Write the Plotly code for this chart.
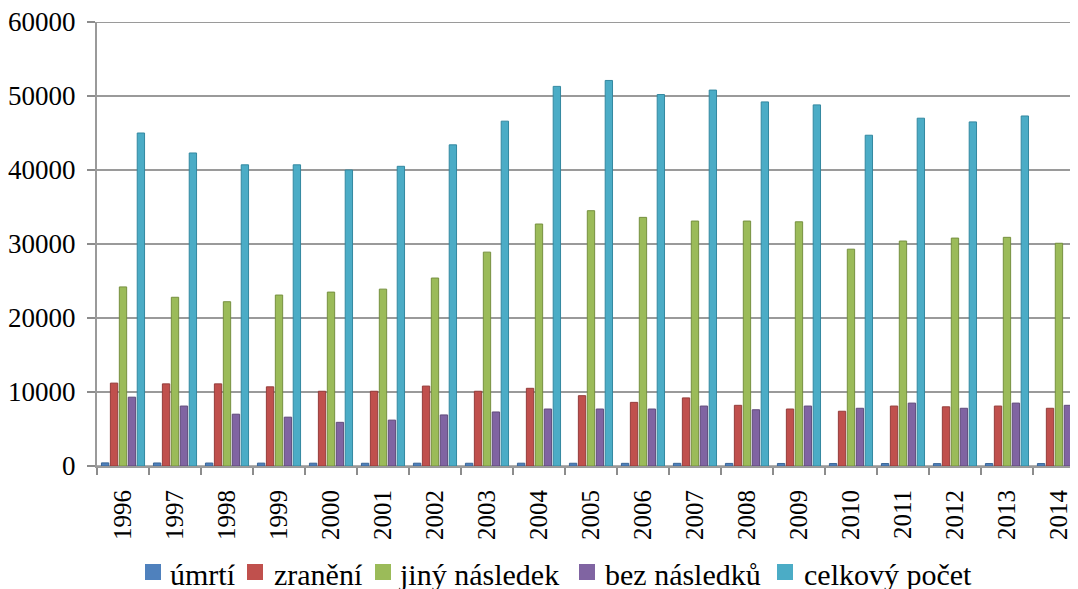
import plotly.graph_objects as go

years = [str(y) for y in range(1996, 2015)]

umrti = [420, 410, 400, 390, 380, 370, 380, 370, 380, 370, 360, 360, 350, 340, 330, 330, 320, 330, 330]
zraneni = [11200, 11100, 11100, 10700, 10100, 10100, 10800, 10100, 10500, 9500,
           8600, 9200, 8200, 7700, 7400, 8100, 8000, 8100, 7800]
jiny_nasledek = [24200, 22800, 22200, 23100, 23500, 23900, 25400, 28900, 32700, 34500,
                 33600, 33100, 33100, 33000, 29300, 30400, 30800, 30900, 30100]
bez_nasledku = [9300, 8100, 7000, 6600, 5900, 6200, 6900, 7300, 7700, 7700,
                7700, 8100, 7600, 8100, 7800, 8500, 7800, 8500, 8200]
celkovy_pocet = [45000, 42300, 40700, 40700, 40000, 40500, 43400, 46600, 51300, 52100,
                 50200, 50800, 49200, 48800, 44700, 47000, 46500, 47300, 46300]

series = [
    ("úmrtí", umrti, "#4F81BD", "#3A6596"),
    ("zranění", zraneni, "#C0504D", "#943C3A"),
    ("jiný následek", jiny_nasledek, "#9BBB59", "#76903F"),
    ("bez následků", bez_nasledku, "#8064A2", "#5F4A7A"),
    ("celkový počet", celkovy_pocet, "#4BACC6", "#3388A0"),
]

FONT = "Liberation Serif"

# figure margins (the page adds an 8px body offset)
L, T, B = 89, 14, 131
W, H = 1078, 589
PW, PH = W - L, H - T - B
OFF = 8


def px_x(px):
    return (px - OFF - L) / PW


def px_y(py):
    return (H - B - (py - OFF)) / PH


fig = go.Figure()
for name, vals, color, edge in series:
    fig.add_trace(go.Bar(
        name=name,
        x=years,
        y=vals,
        marker=dict(color=color, line=dict(color=edge, width=1)),
        showlegend=False,
    ))

# hand-made legend below the plot (small squares, tight spacing)
legend_sq = [145, 247, 375, 579, 777]
legend_txt = [168, 272, 397, 603, 802]
for (name, _, color, edge), sx, tx in zip(series, legend_sq, legend_txt):
    fig.add_shape(
        type="rect", xref="paper", yref="paper",
        x0=px_x(sx), x1=px_x(sx + 16), y0=px_y(580), y1=px_y(564),
        fillcolor=color, line=dict(width=0),
    )
    fig.add_annotation(
        xref="paper", yref="paper", x=px_x(tx), y=px_y(574),
        xanchor="left", yanchor="middle", showarrow=False,
        text=name, font=dict(family=FONT, size=30, color="black"),
    )

fig.update_layout(
    template="none",
    width=W,
    height=H,
    barmode="group",
    bargap=0.14,
    bargroupgap=0.18,
    plot_bgcolor="white",
    paper_bgcolor="white",
    margin=dict(l=L, r=0, t=T, b=B, autoexpand=False),
    font=dict(family=FONT, size=25, color="black"),
    xaxis=dict(
        type="category",
        range=[-0.5, 18.52],
        tickangle=-90,
        ticks="outside",
        tickson="boundaries",
        ticklen=7,
        tickcolor="#8c8c8c",
        tickwidth=2,
        showline=True,
        linecolor="#9a9a9a",
        linewidth=2,
        showgrid=False,
        zeroline=False,
        automargin=False,
        ticklabelstandoff=12,
        tickfont=dict(family=FONT, size=25, color="black"),
    ),
    yaxis=dict(
        range=[0, 60000],
        dtick=10000,
        tickformat="d",
        ticks="outside",
        ticklen=8,
        tickcolor="#8c8c8c",
        tickwidth=2,
        showline=True,
        linecolor="#9a9a9a",
        linewidth=2,
        showgrid=True,
        gridcolor="#9a9a9a",
        gridwidth=2,
        zeroline=True,
        zerolinecolor="#b0b0b0",
        zerolinewidth=3,
        automargin=False,
        ticklabeloverflow="allow",
        tickfont=dict(family=FONT, size=27, color="black"),
        ticklabelstandoff=6,
    ),
)
# top border line where the 60000 grid line sits
fig.add_hline(y=60000, line=dict(color="#9a9a9a", width=2))

fig.write_html("out.html")
